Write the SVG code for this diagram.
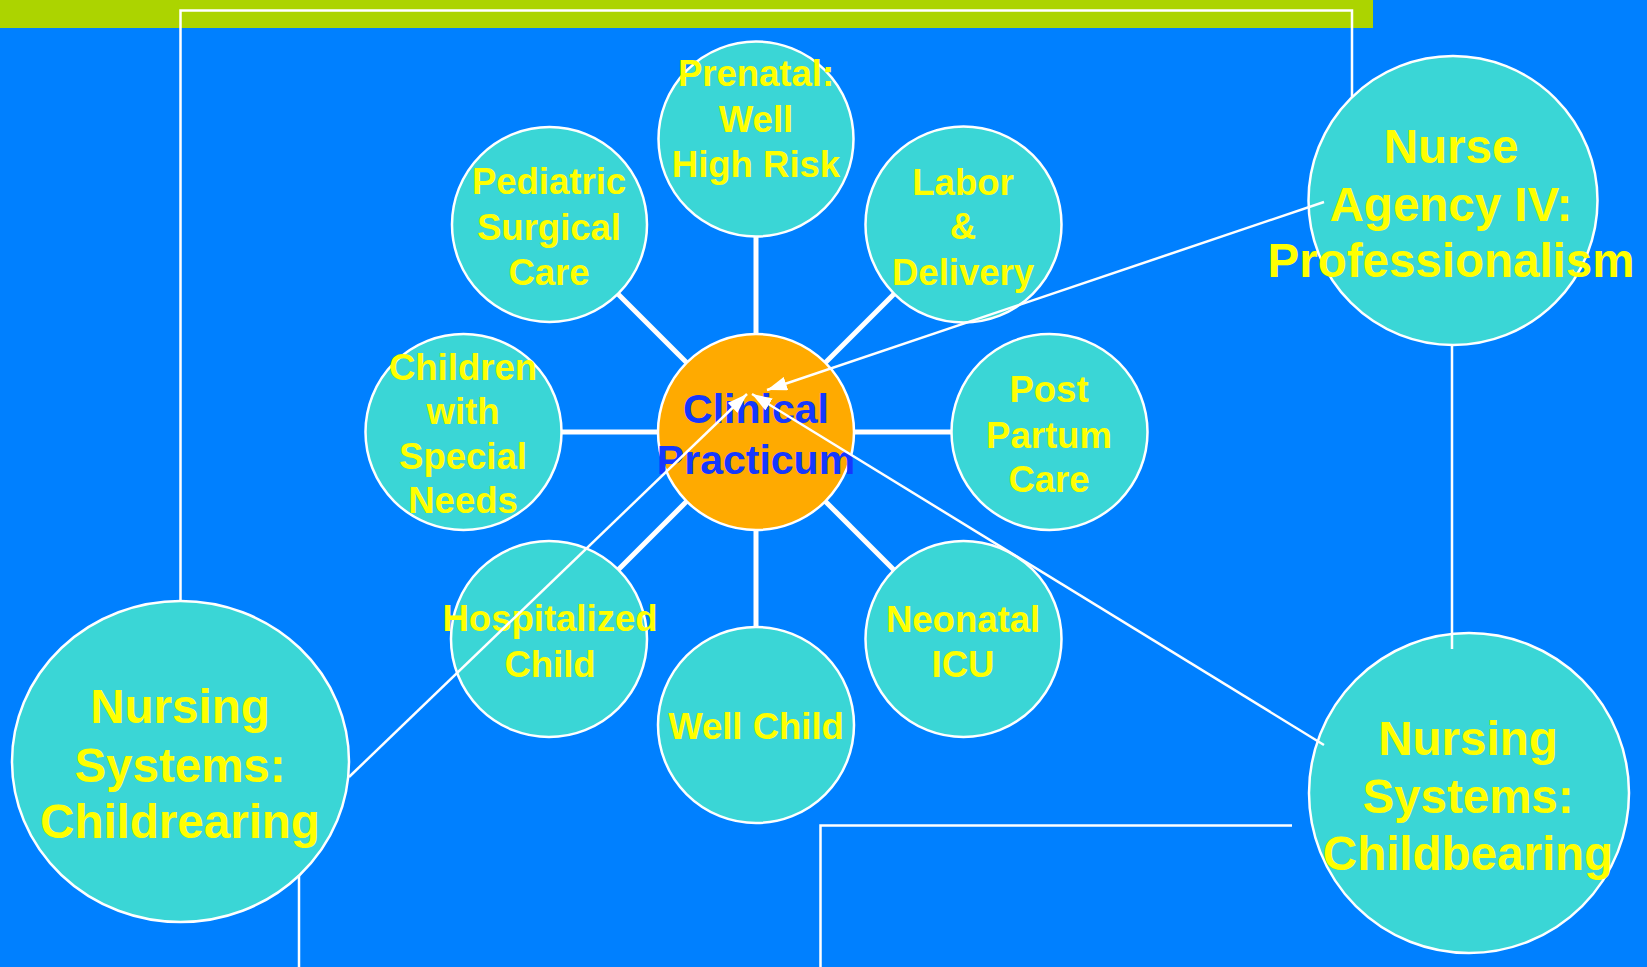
<svg xmlns="http://www.w3.org/2000/svg" width="1647" height="967" viewBox="0 0 1647 967">
<defs>
<style>
.node{fill:#3ad6d6;stroke:#ffffff;stroke-width:2.5}
.center{fill:#ffaa00;stroke:#ffffff;stroke-width:2.5}
.t{font-family:"Liberation Sans",Arial,sans-serif;font-weight:bold;fill:#ffff00;text-anchor:middle;font-size:36.5px}
.big{font-size:47.5px}
.ct{fill:#1438ff;font-size:41px}
.spoke{stroke:#ffffff;stroke-width:5;fill:none}
.conn{stroke:#ffffff;stroke-width:2.5;fill:none}
</style>
<marker id="arr" viewBox="0 0 20 14" refX="20" refY="7" markerWidth="20" markerHeight="14" markerUnits="userSpaceOnUse" orient="auto">
<path d="M0,0 L20,7 L0,14 Z" fill="#ffffff"/>
</marker>
</defs>
<rect x="0" y="0" width="1647" height="967" fill="#0080ff"/>
<rect x="0" y="0" width="1373" height="28" fill="#acd400"/>
<g id="spokes">
<line class="spoke" x1="756" y1="432" x2="756" y2="139"/>
<line class="spoke" x1="756" y1="432" x2="549" y2="225"/>
<line class="spoke" x1="756" y1="432" x2="963" y2="225"/>
<line class="spoke" x1="756" y1="432" x2="463" y2="432"/>
<line class="spoke" x1="756" y1="432" x2="1049" y2="432"/>
<line class="spoke" x1="756" y1="432" x2="549" y2="639"/>
<line class="spoke" x1="756" y1="432" x2="963" y2="639"/>
<line class="spoke" x1="756" y1="432" x2="756" y2="725"/>
</g>
<g id="prenatal">
<circle class="node" cx="756" cy="139" r="97.5"/>
<text class="t" x="756" y="86">Prenatal:</text>
<text class="t" x="756" y="131.5">Well</text>
<text class="t" x="756" y="177">High Risk</text>
</g>
<g id="pediatric">
<circle class="node" cx="549.5" cy="224.5" r="97.5"/>
<text class="t" x="549" y="194">Pediatric</text>
<text class="t" x="549" y="240">Surgical</text>
<text class="t" x="549" y="285">Care</text>
</g>
<g id="labor">
<circle class="node" cx="963.5" cy="224.5" r="98"/>
<text class="t" x="963" y="195">Labor</text>
<text class="t" x="963" y="239">&amp;</text>
<text class="t" x="963" y="285">Delivery</text>
</g>
<g id="children">
<circle class="node" cx="463.5" cy="432" r="98"/>
<text class="t" x="463" y="380">Children</text>
<text class="t" x="463" y="424">with</text>
<text class="t" x="463" y="469">Special</text>
<text class="t" x="463" y="513">Needs</text>
</g>
<g id="postpartum">
<circle class="node" cx="1049.5" cy="432" r="98"/>
<text class="t" x="1049" y="402">Post</text>
<text class="t" x="1049" y="448">Partum</text>
<text class="t" x="1049" y="492">Care</text>
</g>
<g id="hospitalized">
<circle class="node" cx="549" cy="639" r="98"/>
<text class="t" x="550" y="631">Hospitalized</text>
<text class="t" x="550" y="677">Child</text>
</g>
<g id="neonatal">
<circle class="node" cx="963.5" cy="639" r="98"/>
<text class="t" x="963" y="632">Neonatal</text>
<text class="t" x="963" y="677">ICU</text>
</g>
<g id="wellchild">
<circle class="node" cx="756" cy="725" r="98"/>
<text class="t" x="756" y="739">Well Child</text>
</g>
<g id="clinical">
<circle class="center" cx="756" cy="432" r="98"/>
<text class="t ct" x="756" y="423">Clinical</text>
<text class="t ct" x="756" y="474">Practicum</text>
</g>
<g id="nurseagency">
<circle class="node" cx="1453" cy="200.5" r="144.5"/>
<text class="t big" x="1451" y="163">Nurse</text>
<text class="t big" x="1451" y="221">Agency IV:</text>
<text class="t big" x="1451" y="277">Professionalism</text>
</g>
<g id="childbearing">
<circle class="node" cx="1469" cy="793" r="160"/>
<text class="t big" x="1468" y="755">Nursing</text>
<text class="t big" x="1468" y="813">Systems:</text>
<text class="t big" x="1468" y="870">Childbearing</text>
</g>
<g id="childrearing">
<ellipse class="node" cx="180.5" cy="761.5" rx="168.5" ry="160.5"/>
<text class="t big" x="180" y="723">Nursing</text>
<text class="t big" x="180" y="782">Systems:</text>
<text class="t big" x="180" y="838">Childrearing</text>
</g>
<g id="connectors">
<polyline class="conn" points="180.5,601 180.5,10.5 1352,10.5 1352,97"/>
<line class="conn" x1="1452" y1="345" x2="1452" y2="649"/>
<polyline class="conn" points="1292,825.5 820.5,825.5 820.5,967"/>
<line class="conn" x1="299" y1="875" x2="299" y2="967"/>
<line class="conn" x1="1324" y1="202" x2="767" y2="390" marker-end="url(#arr)"/>
<line class="conn" x1="349" y1="777" x2="747" y2="394" marker-end="url(#arr)"/>
<line class="conn" x1="1324" y1="745" x2="752" y2="394" marker-end="url(#arr)"/>
</g>
</svg>
